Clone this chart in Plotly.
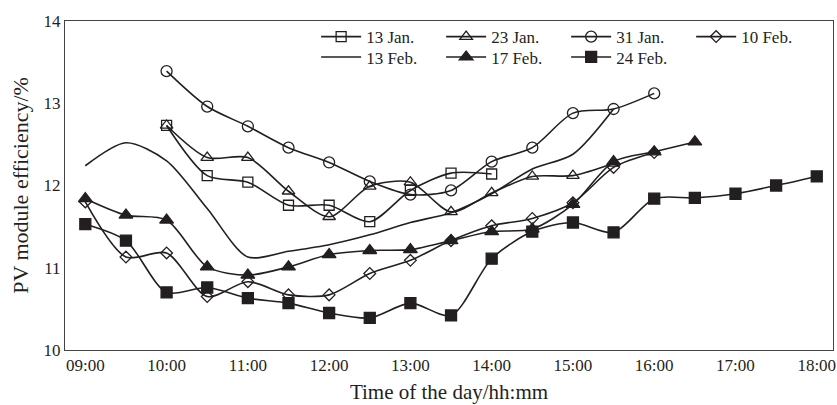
import plotly.graph_objects as go

# ---- data ----
tick_labels = ["09:00", "10:00", "11:00", "12:00", "13:00", "14:00", "15:00", "16:00", "17:00", "18:00"]

times_13jan = ["10:00", "10:30", "11:00", "11:30", "12:00", "12:30", "13:00", "13:30", "14:00"]
eff_13jan = [12.73, 12.12, 12.04, 11.76, 11.76, 11.56, 11.94, 12.15, 12.14]

times_23jan = ["10:00", "10:30", "11:00", "11:30", "12:00", "12:30", "13:00", "13:30", "14:00", "14:30", "15:00", "15:30"]
eff_23jan = [12.73, 12.34, 12.34, 11.93, 11.62, 11.99, 12.04, 11.68, 11.91, 12.11, 12.12, 12.27]

times_31jan = ["10:00", "10:30", "11:00", "11:30", "12:00", "12:30", "13:00", "13:30", "14:00", "14:30", "15:00", "15:30", "16:00"]
eff_31jan = [13.39, 12.96, 12.72, 12.46, 12.28, 12.05, 11.89, 11.94, 12.29, 12.46, 12.88, 12.93, 13.12]

times_10feb = ["09:00", "09:30", "10:00", "10:30", "11:00", "11:30", "12:00", "12:30", "13:00", "13:30", "14:00", "14:30", "15:00", "15:30", "16:00"]
eff_10feb = [11.80, 11.13, 11.18, 10.65, 10.83, 10.67, 10.67, 10.93, 11.09, 11.33, 11.51, 11.60, 11.79, 12.22, 12.40]

times_13feb = ["09:00", "09:30", "10:00", "10:30", "11:00", "11:30", "12:00", "12:30", "13:00", "13:30", "14:00", "14:30", "15:00", "15:30"]
eff_13feb = [12.24, 12.52, 12.30, 11.72, 11.13, 11.20, 11.28, 11.40, 11.55, 11.67, 11.90, 12.20, 12.38, 12.93]

times_17feb = ["09:00", "09:30", "10:00", "10:30", "11:00", "11:30", "12:00", "12:30", "13:00", "13:30", "14:00", "14:30", "15:00", "15:30", "16:00", "16:30"]
eff_17feb = [11.84, 11.64, 11.58, 11.01, 10.91, 11.01, 11.16, 11.21, 11.22, 11.33, 11.44, 11.47, 11.77, 12.29, 12.41, 12.53]

times_24feb = ["09:00", "09:30", "10:00", "10:30", "11:00", "11:30", "12:00", "12:30", "13:00", "13:30", "14:00", "14:30", "15:00", "15:30", "16:00", "16:30", "17:00", "17:30", "18:00"]
eff_24feb = [11.53, 11.33, 10.70, 10.76, 10.63, 10.57, 10.45, 10.39, 10.57, 10.42, 11.11, 11.44, 11.55, 11.43, 11.84, 11.85, 11.90, 12.00, 12.11]


def to_hours(labels):
    out = []
    for s in labels:
        h, m = s.split(":")
        out.append(int(h) + int(m) / 60.0)
    return out


INK = "#231f20"
FONT = "Liberation Serif"

series = [
    ("13 Jan.", times_13jan, eff_13jan, "square-open", 10, "legend"),
    ("23 Jan.", times_23jan, eff_23jan, "triangle-up-open", 11, "legend"),
    ("31 Jan.", times_31jan, eff_31jan, "circle-open", 11, "legend"),
    ("10 Feb.", times_10feb, eff_10feb, "diamond-open", 9, "legend"),
    ("13 Feb.", times_13feb, eff_13feb, None, 0, "legend2"),
    ("17 Feb.", times_17feb, eff_17feb, "triangle-up", 12, "legend2"),
    ("24 Feb.", times_24feb, eff_24feb, "square", 11, "legend2"),
]

fig = go.Figure()
for name, t, v, sym, size, lg in series:
    if sym is None:
        mode = "lines"
        marker = None
    else:
        mode = "lines+markers"
        marker = dict(symbol=sym, size=size, color=INK, line=dict(color=INK, width=1.3))
    fig.add_trace(go.Scatter(
        x=to_hours(t), y=v, name=name, mode=mode,
        line=dict(color=INK, width=1.6, shape="spline", smoothing=0.8),
        marker=marker, legend=lg,
    ))

tick_pos = to_hours(tick_labels)

legend_common = dict(
    orientation="h", xanchor="left", yanchor="top",
    bgcolor="rgba(0,0,0,0)", itemwidth=40, entrywidth=70, entrywidthmode="pixels",
    font=dict(size=17, family=FONT), tracegroupgap=0,
)

fig.update_layout(
    width=837, height=405,
    margin=dict(l=65, r=4, t=21, b=55, autoexpand=False),
    paper_bgcolor="white", plot_bgcolor="white",
    font=dict(family=FONT, color=INK, size=17),
    xaxis=dict(
        range=[8.75, 18.2], tickvals=tick_pos, ticktext=tick_labels,
        showgrid=False, zeroline=False, ticks="",
        showline=True, mirror=True, linecolor="#444", linewidth=1,
        tickfont=dict(size=17, family=FONT),
        title=dict(text="Time of the day/hh:mm", font=dict(size=21, family=FONT), standoff=9),
    ),
    yaxis=dict(
        range=[10, 14], tickvals=[10, 11, 12, 13, 14],
        showgrid=False, zeroline=False, ticks="",
        showline=True, mirror=True, linecolor="#444", linewidth=1,
        tickfont=dict(size=17, family=FONT),
        title=dict(text="PV module efficiency/%", font=dict(size=22, family=FONT), standoff=8),
    ),
    legend=dict(x=0.327, y=1.006, **legend_common),
    legend2=dict(x=0.327, y=0.944, **legend_common),
    showlegend=True,
)

fig.write_html("out.html")
